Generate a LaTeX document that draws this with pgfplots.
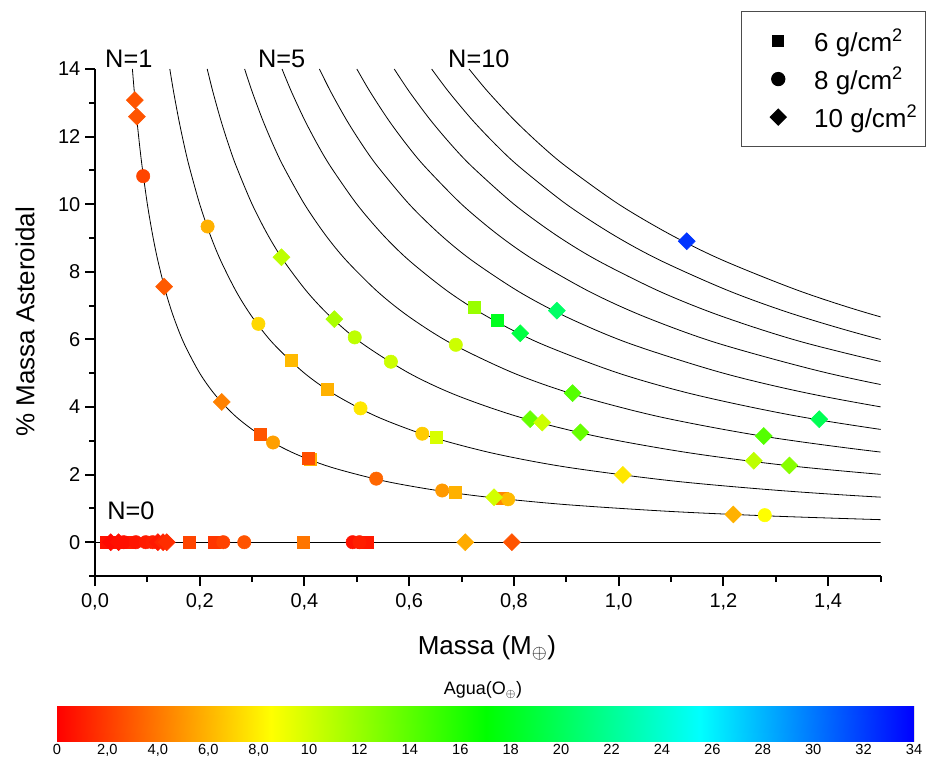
\documentclass[border=0pt]{standalone}
\usepackage{fontspec}
\setmainfont{Liberation Sans}
\usepackage{pgfplots}
\pgfplotsset{compat=1.18}
\usepackage{pgfplotstable}

\pgfplotstableread{
y x1 x2 x3 x4 x5 x6 x7 x8 x9 x10
14 0.071429 0.142857 0.214286 0.285714 0.357143 0.428571 0.5 0.571429 0.642857 0.714286
13.3333 0.075 0.15 0.225 0.3 0.375 0.45 0.525 0.6 0.675 0.75
12.5 0.08 0.16 0.24 0.32 0.4 0.48 0.56 0.64 0.72 0.8
11.7647 0.085 0.17 0.255 0.34 0.425 0.51 0.595 0.68 0.765 0.85
11.1111 0.09 0.18 0.27 0.36 0.45 0.54 0.63 0.72 0.81 0.9
10 0.1 0.2 0.3 0.4 0.5 0.6 0.7 0.8 0.9 1.0
9.0909 0.11 0.22 0.33 0.44 0.55 0.66 0.77 0.88 0.99 1.1
8.3333 0.12 0.24 0.36 0.48 0.6 0.72 0.84 0.96 1.08 1.2
7.4074 0.135 0.27 0.405 0.54 0.675 0.81 0.945 1.08 1.215 1.35
6.6667 0.15 0.3 0.45 0.6 0.75 0.9 1.05 1.2 1.35 1.5
5.8824 0.17 0.34 0.51 0.68 0.85 1.02 1.19 1.36 1.53 1.7
5 0.2 0.4 0.6 0.8 1.0 1.2 1.4 1.6 1.8 2.0
4.3478 0.23 0.46 0.69 0.92 1.15 1.38 1.61 1.84 2.07 2.3
3.7037 0.27 0.54 0.81 1.08 1.35 1.62 1.89 2.16 2.43 2.7
3.125 0.32 0.64 0.96 1.28 1.6 1.92 2.24 2.56 2.88 3.2
2.6316 0.38 0.76 1.14 1.52 1.9 2.28 2.66 3.04 3.42 3.8
2.2222 0.45 0.9 1.35 1.8 2.25 2.7 3.15 3.6 4.05 4.5
1.8182 0.55 1.1 1.65 2.2 2.75 3.3 3.85 4.4 4.95 5.5
1.5385 0.65 1.3 1.95 2.6 3.25 3.9 4.55 5.2 5.85 6.5
1.3333 0.75 1.5 2.25 3.0 3.75 4.5 5.25 6.0 6.75 7.5
1.1111 0.9 1.8 2.7 3.6 4.5 5.4 6.3 7.2 8.1 9.0
0.9091 1.1 2.2 3.3 4.4 5.5 6.6 7.7 8.8 9.9 11.0
0.7692 1.3 2.6 3.9 5.2 6.5 7.8 9.1 10.4 11.7 13.0
0.6667 1.5 3.0 4.5 6.0 7.5 9.0 10.5 12.0 13.5 15.0
}\curves

% 6 g/cm2 (squares): x, y, agua
\pgfplotstableread{
x y w
0.022 0 0.6
0.040 0 0.8
0.065 0 1.0
0.180 0 2.3
0.228 0 1.8
0.397 0 3.9
0.513 0 0.9
0.520 0 0.8
0.315 3.19 2.8
0.412 2.45 5.9
0.407 2.48 2.6
0.688 1.47 5.9
0.778 1.30 4.5
0.374 5.37 6.2
0.444 4.53 5.9
0.651 3.09 9.8
0.725 6.94 11.9
0.768 6.56 18.0
}\sqdata

% 8 g/cm2 (circles)
\pgfplotstableread{
x y w
0.055 0 0.5
0.078 0 0.7
0.097 0 0.9
0.110 0 1.0
0.245 0 2.2
0.285 0 2.8
0.492 0 0.6
0.505 0 1.0
0.092 10.83 2.3
0.340 2.95 5.3
0.537 1.88 3.4
0.663 1.53 5.1
0.789 1.27 6.2
1.279 0.80 8.5
0.215 9.34 5.9
0.312 6.46 7.2
0.507 3.96 7.7
0.625 3.21 6.8
0.496 6.06 10.7
0.565 5.34 10.2
0.689 5.84 10.2
}\cidata

% 10 g/cm2 (diamonds)
\pgfplotstableread{
x y w
0.030 0 0.3
0.045 0 0.5
0.120 0 0.8
0.130 0 1.2
0.137 0 1.5
0.707 0 5.7
0.796 0 2.8
0.076 13.08 2.8
0.080 12.59 2.8
0.132 7.56 3.0
0.242 4.15 4.3
0.762 1.33 10.0
1.219 0.82 5.9
1.008 1.99 7.7
0.356 8.43 10.7
0.457 6.60 11.3
0.831 3.64 13.6
0.854 3.54 10.2
0.927 3.25 13.6
1.258 2.41 10.7
1.326 2.27 12.5
0.912 4.41 14.2
1.277 3.14 14.2
0.812 6.18 19.2
1.383 3.64 19.8
0.882 6.85 20.4
1.130 8.905 32.3
}\didata

\pgfplotsset{
  colormap={aguamap}{rgb255(0)=(255,0,0); rgb255(1)=(255,255,0); rgb255(2)=(0,255,0); rgb255(3)=(0,255,255); rgb255(4)=(0,0,255)},
  myscatter/.style={scatter, only marks, point meta=explicit,
    scatter/use mapped color={draw=mapped color, fill=mapped color}, forget plot},
}

\begin{document}
\begin{tikzpicture}
\path[use as bounding box] (0pt,0pt) rectangle (695.25pt,570pt);

\begin{axis}[
  at={(71.25pt,138pt)}, anchor=south west,
  scale only axis, width=589.125pt, height=380.25pt,
  xmin=0, xmax=1.5, ymin=-1, ymax=14,
  axis x line=bottom, axis y line=left,
  axis line style={line width=1.5pt, black, -},
  xtick={0,0.2,0.4,0.6,0.8,1.0,1.2,1.4},
  xticklabels={{0,0},{0,2},{0,4},{0,6},{0,8},{1,0},{1,2},{1,4}},
  minor xtick={0.1,0.3,0.5,0.7,0.9,1.1,1.3,1.5},
  ytick={0,2,4,6,8,10,12,14},
  yticklabels={0,2,4,6,8,10,12,14},
  minor ytick={-1,1,3,5,7,9,11,13},
  tick align=outside,
  major tick length=7.5pt, minor tick length=4.5pt,
  tick style={line width=1.5pt, black},
  tick label style={font=\fontsize{15}{18}\selectfont},
  xticklabel style={yshift=-2pt},
  xlabel={Massa (M$_\oplus$)},
  ylabel={\% Massa Asteroidal},
  label style={font=\fontsize{19.5}{23}\selectfont},
  xlabel style={at={(axis description cs:0.499,-0.142)}, anchor=center},
  ylabel style={at={(axis description cs:-0.089,0.501)}, anchor=center, rotate=0},
  colormap name=aguamap,
  point meta min=0, point meta max=34,
  clip mode=individual,
  legend style={at={(1.058,1.115)}, anchor=north east, draw=black!70, line width=0.9pt,
    font=\fontsize{19.5}{23}\selectfont, inner xsep=4pt, inner ysep=11pt, row sep=6pt},
  legend cell align=left,
  legend image code/.code={\node[draw=none, fill=none, inner sep=0pt, minimum size=0pt] at (0pt,0pt) {}; \draw[#1] plot coordinates {(24pt,0pt)};},
]
\addplot[black, line width=0.6pt, forget plot] coordinates {(0,0) (1.5,0)};
\pgfplotsinvokeforeach{1,...,10}{
  \addplot[black, line width=0.6pt, smooth, forget plot] table[x=x#1, y=y] {\curves};
}
\addplot[myscatter, mark=square*, mark size=4.5pt] table[x=x, y=y, meta=w] {\sqdata};
\addplot[myscatter, mark=*, mark size=5pt] table[x=x, y=y, meta=w] {\cidata};
\addplot[myscatter, mark=square*, mark size=4.5pt, mark options={rotate=45}] table[x=x, y=y, meta=w] {\didata};

\addlegendimage{only marks, mark=square*, mark size=4.2pt, black}
\addlegendentry{\hspace{19pt}6 g/cm\textsuperscript{2}}
\addlegendimage{only marks, mark=*, mark size=4.9pt, black}
\addlegendentry{\hspace{19pt}8 g/cm\textsuperscript{2}}
\addlegendimage{only marks, mark=square*, mark size=4.2pt, black, mark options={rotate=45}}
\addlegendentry{\hspace{19pt}10 g/cm\textsuperscript{2}}

\node[anchor=base west, inner sep=0pt, font=\fontsize{19}{22}\selectfont] at (axis cs:0.019,14.05) {N=1};
\node[anchor=base west, inner sep=0pt, font=\fontsize{19}{22}\selectfont] at (axis cs:0.311,14.05) {N=5};
\node[anchor=base west, inner sep=0pt, font=\fontsize{19}{22}\selectfont] at (axis cs:0.674,14.05) {N=10};
\node[anchor=base west, inner sep=0pt, font=\fontsize{19}{22}\selectfont] at (axis cs:0.023,0.66) {N=0};
\end{axis}

% colour scale
\begin{axis}[
  at={(42.75pt,13.7pt)}, anchor=south west,
  scale only axis, width=642.75pt, height=26.8pt,
  xmin=0, xmax=34, ymin=0, ymax=1,
  xtick={0,2,4,6,8,10,12,14,16,18,20,22,24,26,28,30,32,34},
  xticklabels={0,{2,0},{4,0},{6,0},{8,0},10,12,14,16,18,20,22,24,26,28,30,32,34},
  ytick=\empty,
  major tick length=0pt,
  axis line style={draw=black!12},
  tick label style={font=\fontsize{11}{13}\selectfont},
  xticklabel style={yshift=1.5pt},
  colormap name=aguamap,
  point meta min=0, point meta max=34,
]
\addplot[patch, shader=interp, point meta=explicit] coordinates {
  (0,0) [0] (8.5,0) [8.5] (8.5,1) [8.5]
  (0,0) [0] (8.5,1) [8.5] (0,1) [0]
  (8.5,0) [8.5] (17,0) [17] (17,1) [17]
  (8.5,0) [8.5] (17,1) [17] (8.5,1) [8.5]
  (17,0) [17] (25.5,0) [25.5] (25.5,1) [25.5]
  (17,0) [17] (25.5,1) [25.5] (17,1) [17]
  (25.5,0) [25.5] (34,0) [34] (34,1) [34]
  (25.5,0) [25.5] (34,1) [34] (25.5,1) [25.5]
};
\end{axis}
\node[font=\fontsize{13.5}{16}\selectfont] at (362.25pt,52.5pt) {Agua(O$_\oplus$)};
\end{tikzpicture}
\end{document}
